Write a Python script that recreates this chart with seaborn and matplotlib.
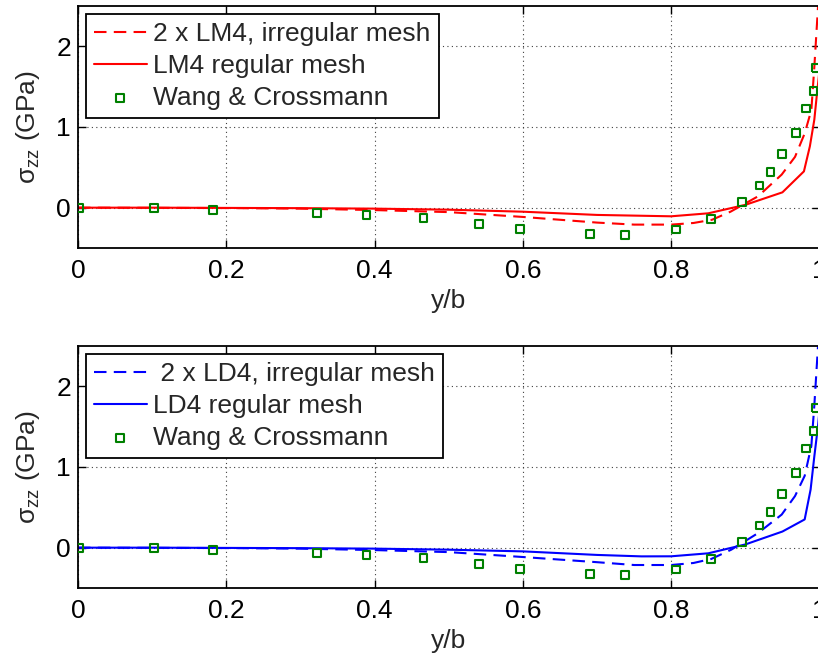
import matplotlib
matplotlib.use("Agg")
import matplotlib.pyplot as plt
import seaborn as sns
import numpy as np

# ---------------- data ----------------
exp_x = [0.001, 0.102, 0.182, 0.322, 0.389, 0.466, 0.541, 0.596, 0.690, 0.738,
         0.807, 0.854, 0.895, 0.919, 0.934, 0.950, 0.968, 0.982, 0.992, 0.995]
exp_y = [0.0, 0.0, -0.025, -0.066, -0.086, -0.13, -0.20, -0.26, -0.33, -0.34,
         -0.27, -0.14, 0.07, 0.275, 0.44, 0.66, 0.93, 1.23, 1.45, 1.73]

lm4_irr_x = [0, 0.1, 0.2, 0.3, 0.4, 0.5, 0.6, 0.7, 0.75, 0.8, 0.83, 0.855, 0.88,
             0.917, 0.949, 0.967, 0.98, 0.989, 0.993, 0.998, 1.0]
lm4_irr_y = [0, -0.002, -0.005, -0.012, -0.03, -0.055, -0.115, -0.185, -0.21, -0.21,
             -0.19, -0.15, -0.05, 0.14, 0.41, 0.63, 0.92, 1.21, 1.74, 2.49, 2.8]

lm4_reg_x = [0, 0.1, 0.2, 0.3, 0.4, 0.5, 0.6, 0.7, 0.8, 0.85, 0.9, 0.95, 0.979,
             0.987, 0.993, 0.997, 1.0]
lm4_reg_y = [0, 0, -0.003, -0.006, -0.012, -0.025, -0.05, -0.09, -0.107, -0.07,
             0.035, 0.19, 0.45, 0.76, 1.09, 1.45, 1.7]

ld4_irr_x = [0, 0.1, 0.2, 0.3, 0.4, 0.5, 0.6, 0.7, 0.75, 0.8, 0.83, 0.854, 0.881,
             0.917, 0.949, 0.967, 0.98, 0.989, 0.993, 0.998, 1.0]
ld4_irr_y = [0, -0.002, -0.005, -0.012, -0.03, -0.055, -0.116, -0.18, -0.215, -0.215,
             -0.19, -0.14, -0.025, 0.18, 0.41, 0.64, 0.89, 1.26, 1.76, 2.5, 2.8]

ld4_reg_x = [0, 0.1, 0.2, 0.3, 0.4, 0.5, 0.6, 0.7, 0.76, 0.8, 0.85, 0.9, 0.95,
             0.98, 0.988, 0.993, 0.998, 1.0]
ld4_reg_y = [0, 0, -0.003, -0.006, -0.012, -0.025, -0.046, -0.09, -0.108, -0.107,
             -0.07, 0.04, 0.2, 0.35, 0.72, 1.13, 1.51, 1.7]

x_ticks = [0, 0.2, 0.4, 0.6, 0.8, 1]
x_ticklabels = ["0", "0.2", "0.4", "0.6", "0.8", "1"]
y_ticks = [0, 1, 2]
y_ticklabels = ["0", "1", "2"]

top_labels = ["2 x LM4, irregular mesh", "LM4 regular mesh", "Wang & Crossmann"]
bot_labels = [" 2 x LD4, irregular mesh", "LD4 regular mesh", "Wang & Crossmann"]

# ---------------- style ----------------
sns.set_style("ticks")
plt.rcParams["font.family"] = ["Liberation Sans", "DejaVu Sans"]
plt.rcParams["mathtext.fontset"] = "custom"
plt.rcParams["mathtext.rm"] = "Liberation Sans"
plt.rcParams["mathtext.it"] = "Liberation Sans:italic"
FS = 19

green = (0.0, 0.5, 0.0)
W, H = 818, 655
fig = plt.figure(figsize=(W / 100, H / 100), dpi=100)

def make_axes(top_px, bottom_px):
    left_px, right_px = 78, 819.5
    return fig.add_axes([left_px / W, 1 - bottom_px / H,
                         (right_px - left_px) / W, (bottom_px - top_px) / H])

ax1 = make_axes(6, 248)
ax2 = make_axes(346, 588)

def draw(ax, irr_x, irr_y, reg_x, reg_y, color, labels):
    sns.lineplot(x=irr_x, y=irr_y, ax=ax, color=color, linewidth=1.5,
                 linestyle=(0, (6, 3.5)), estimator=None, sort=False,
                 label=labels[0])
    sns.lineplot(x=reg_x, y=reg_y, ax=ax, color=color, linewidth=1.5,
                 estimator=None, sort=False, label=labels[1])
    sns.scatterplot(x=exp_x, y=exp_y, ax=ax, marker="s", s=32,
                    edgecolor=green, linewidth=1.5, label=labels[2],
                    zorder=3)
    for coll in ax.collections:
        coll.set_facecolor("none")
        coll.set_edgecolor(green)
    ax.set_xlim(0, 1)
    ax.set_ylim(-0.5, 2.5)
    ax.set_xticks(x_ticks)
    ax.set_xticklabels(x_ticklabels)
    ax.set_yticks(y_ticks)
    ax.set_yticklabels(y_ticklabels)
    ax.grid(True, color="0.25", linestyle=(0, (1, 3)), linewidth=0.8)
    ax.tick_params(direction="in", length=6, width=1, top=True, right=True,
                   labelsize=FS, colors="black")
    ax.tick_params(axis="x", pad=8)
    ax.tick_params(axis="y", pad=5)
    for sp in ax.spines.values():
        sp.set_visible(True)
        sp.set_linewidth(1.3)
        sp.set_color("black")
    ax.set_xlabel("y/b", fontsize=FS, labelpad=4)
    ax.set_ylabel(r"$\mathregular{σ_{zz}}$ (GPa)", fontsize=FS, labelpad=10)
    handles, labs = ax.get_legend_handles_labels()
    leg = ax.legend(handles, labs, loc="upper left", fontsize=FS,
                    frameon=True, fancybox=False, framealpha=1,
                    edgecolor="black", borderaxespad=0.3, borderpad=0.3,
                    labelspacing=0.3, handlelength=2.0, handletextpad=0.25,
                    scatterpoints=1)
    leg.get_frame().set_linewidth(1.3)

draw(ax1, lm4_irr_x, lm4_irr_y, lm4_reg_x, lm4_reg_y, "red", top_labels)
draw(ax2, ld4_irr_x, ld4_irr_y, ld4_reg_x, ld4_reg_y, "blue", bot_labels)

fig.savefig("out.png", dpi=100)
